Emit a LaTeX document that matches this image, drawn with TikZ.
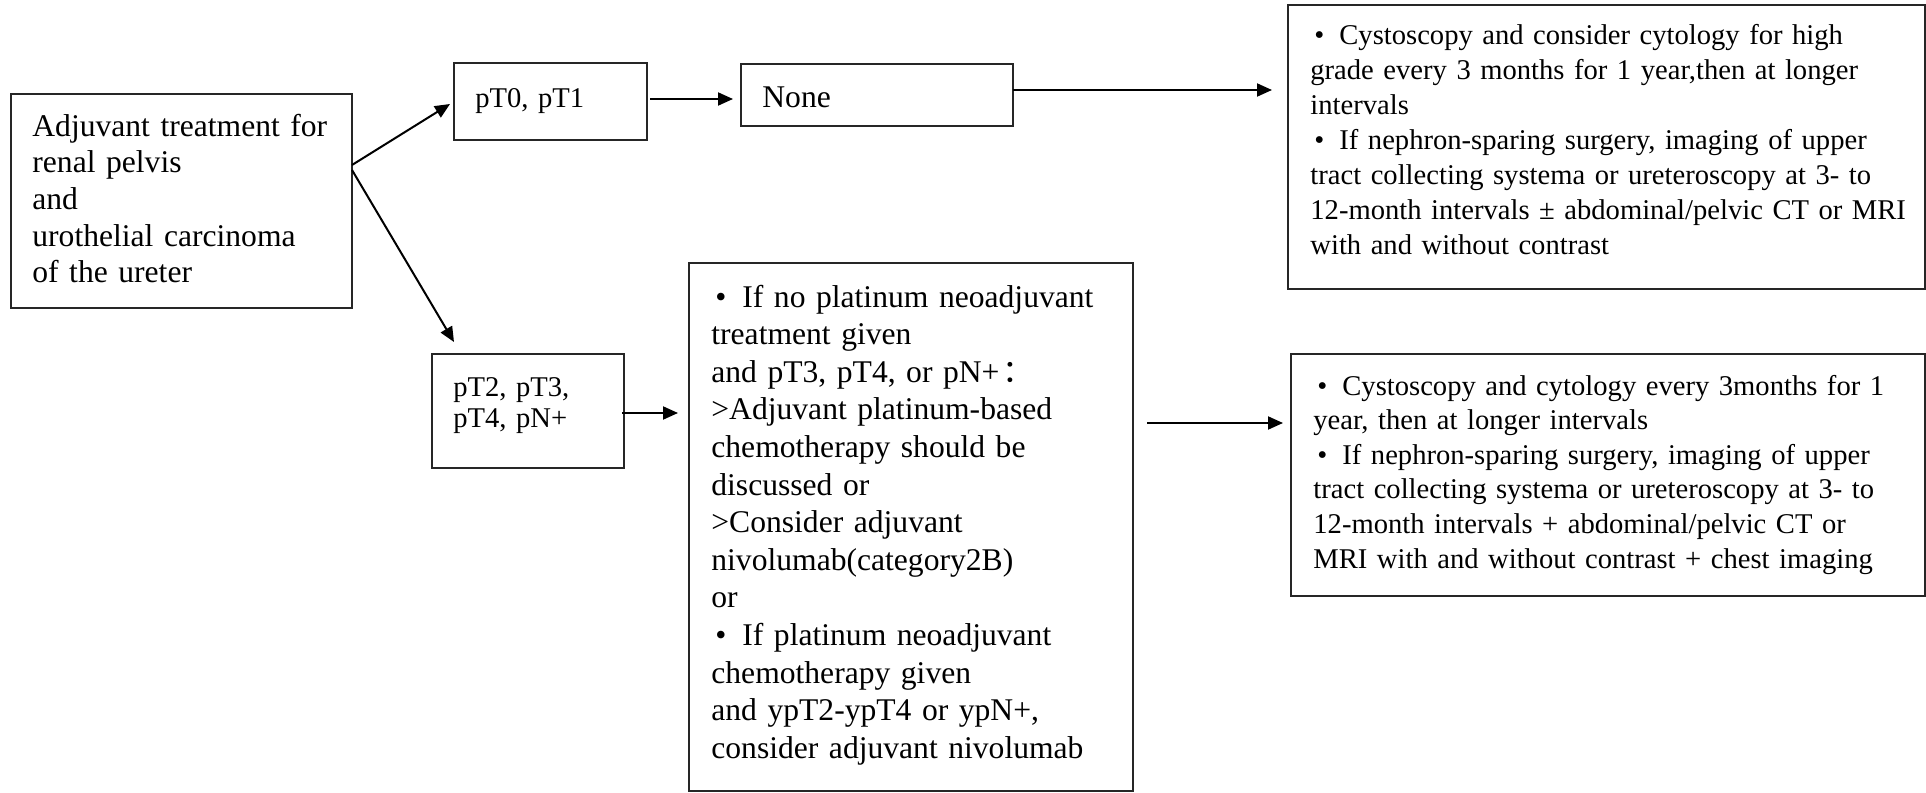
\documentclass[tikz,border=0pt]{standalone}
\usepackage{fontspec}
\setmainfont{Liberation Serif}
\newfontfamily\cjk{Noto Sans CJK SC}
\usetikzlibrary{arrows.meta,calc}

% bullet with its own fixed-width slot
\newcommand\bul[1]{\makebox[#1][l]{\hspace{2pt}\textbullet}}

\begin{document}
\begin{tikzpicture}[x=0.5pt,y=-0.5pt,
  box/.style={draw=black!85, line width=1pt, rectangle, inner sep=0pt,
              outer sep=0pt, anchor=north west},
  txt/.style={anchor=base west, inner sep=0pt, align=left, text width=#1},
  txt/.default=420pt,
  big/.style={font=\fontsize{15.8pt}{18.8pt}\selectfont},
  small/.style={font=\fontsize{14.3pt}{#1}\selectfont},
  link/.style={line width=1pt, -{Triangle[length=7.5pt,width=6.5pt]}}
]
\path[use as bounding box, fill=white] (0,0) rectangle (1926,792);

% boxes
\node[box, minimum width=170.5pt, minimum height=107pt] (start) at (11,94) {};
\node[box, minimum width=96.5pt,  minimum height=38.5pt] (p01) at (454,63) {};
\node[box, minimum width=136pt,   minimum height=31pt]   (none) at (741,64) {};
\node[box, minimum width=318.5pt, minimum height=142pt]  (tr) at (1288,5) {};
\node[box, minimum width=96pt,    minimum height=57pt]   (p2) at (432,354) {};
\node[box, minimum width=222pt,   minimum height=264pt]  (mid) at (689,263) {};
\node[box, minimum width=317pt,   minimum height=121pt]  (br) at (1291,354) {};

% texts
\node[txt, font=\fontsize{15.8pt}{18.35pt}\selectfont] (start-t) at (32,136)
  {Adjuvant treatment for\\renal pelvis\\and\\urothelial carcinoma\\of the ureter};
\node[txt, small=17pt] (p01-t) at (475,107) {pT0, pT1};
\node[txt, big] (none-t) at (762,107) {None};
\node[txt, small=17.5pt] (tr-t) at (1310,45)
  {\bul{14.5pt}Cystoscopy and consider cytology for high\\
   grade every 3 months for 1 year,then at longer\\
   intervals\\
   \bul{14.5pt}If nephron-sparing surgery, imaging of upper\\
   tract collecting systema or ureteroscopy at 3- to\\
   12-month intervals ± abdominal/pelvic CT or MRI\\
   with and without contrast};
\node[txt, small=15.5pt] (p2-t) at (453,396)
  {pT2, pT3,\\pT4, pN+};
\node[txt, big] (mid-t) at (711,307)
  {\bul{15.5pt}If no platinum neoadjuvant\\
   treatment given\\
   and pT3, pT4, or pN+\hspace{1.5pt}{\cjk ：}\\
   >Adjuvant platinum-based\\
   chemotherapy should be\\
   discussed or\\
   >Consider adjuvant\\
   nivolumab(category2B)\\
   or\\
   \bul{15.5pt}If platinum neoadjuvant\\
   chemotherapy given\\
   and ypT2-ypT4 or ypN+,\\
   consider adjuvant nivolumab};
\node[txt, small=17.3pt] (br-t) at (1313,395)
  {\bul{14.5pt}Cystoscopy and cytology every 3months for 1\\
   year, then at longer intervals\\
   \bul{14.5pt}If nephron-sparing surgery, imaging of upper\\
   tract collecting systema or ureteroscopy at 3- to\\
   12-month intervals + abdominal/pelvic CT or\\
   MRI with and without contrast + chest imaging};

% connectors
\draw[link] ($(start.east)+(0,-36)$) -- ($(p01.west)+(-4,2.5)$);
\draw[link] ($(start.east)+(0,-31)$) -- ($(p2.north west)+(22,-12)$);
\draw[link] ($(p01.east)+(3,-2.5)$) -- ($(p01.east -| none.west)+(-8,-2.5)$);
\draw[link] ($(none.east)+(0,-5)$) -- ($(none.east -| tr.west)+(-16,-5)$);
\draw[link] ($(p2.east)+(-2,2)$) -- ($(p2.east -| mid.west)+(-11,2)$);
\draw[link] ($(mid.east)+(14,-104)$) -- ($(mid.east -| br.west)+(-8,-104)$);
\end{tikzpicture}
\end{document}
